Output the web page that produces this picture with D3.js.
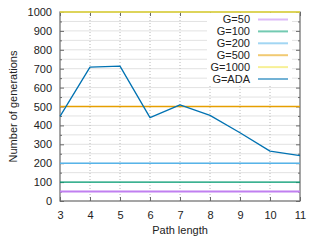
<!DOCTYPE html>
<html>
<head>
<meta charset="utf-8">
<script src="https://cdn.jsdelivr.net/npm/d3@7"></script>
<style>
  html, body { margin: 0; padding: 0; background: #fff; }
  svg { display: block; font-family: "Liberation Sans", Arial, sans-serif; }
</style>
</head>
<body>
<div id="chart"></div>
<script>
// data
const pathLengths = [3, 4, 5, 6, 7, 8, 9, 10, 11];
const adaValues = [448, 708, 714, 441, 509, 453, 361, 264, 240];
const seriesNames = ["G=50", "G=100", "G=200", "G=500", "G=1000", "G=ADA"];
const constantValues = [50, 100, 200, 500, 1000];
const seriesColors = ["#c07ff0", "#009e73", "#56b4e9", "#e69f00", "#f0e442", "#0072b2"];
const yTicks = [0, 100, 200, 300, 400, 500, 600, 700, 800, 900, 1000];
const xTicks = [3, 4, 5, 6, 7, 8, 9, 10, 11];

const width = 320, height = 240;
const margin = { left: 60, right: 20, top: 12, bottom: 39 };

const svg = d3.select("#chart").append("svg")
  .attr("width", width)
  .attr("height", height);

const x = d3.scaleLinear().domain([3, 11]).range([margin.left, width - margin.right]);
const y = d3.scaleLinear().domain([0, 1000]).range([height - margin.bottom, margin.top]);

// horizontal grid every 50
svg.append("g")
  .selectAll("line")
  .data(d3.range(50, 1000, 50))
  .join("line")
  .attr("x1", x(3)).attr("x2", x(11))
  .attr("y1", d => y(d)).attr("y2", d => y(d))
  .attr("stroke", "#e2e2e2")
  .attr("stroke-width", 1);

// vertical dotted grid
svg.append("g")
  .selectAll("line")
  .data(xTicks.slice(1, -1))
  .join("line")
  .attr("x1", d => x(d)).attr("x2", d => x(d))
  .attr("y1", y(0)).attr("y2", y(1000))
  .attr("stroke", "#b8b8b8")
  .attr("stroke-dasharray", "1,2")
  .attr("stroke-width", 1);

// axes (gnuplot style, ticks inward + mirrored)
const axisColor = "#6a6a6a";
const styleAxis = g => {
  g.select(".domain").remove();
  g.selectAll("line").attr("stroke", axisColor);
  g.selectAll("text").attr("fill", "#222").style("font-size", "11px");
};

svg.append("g")
  .attr("transform", `translate(${x(3)},0)`)
  .call(d3.axisLeft(y).tickValues(yTicks).tickSize(-4).tickPadding(8).tickFormat(d3.format("d")))
  .call(styleAxis);
svg.append("g")
  .attr("transform", `translate(${x(3)},0)`)
  .call(d3.axisLeft(y).tickValues(d3.range(50, 1000, 100)).tickSize(-2).tickFormat(""))
  .call(styleAxis);
svg.append("g")
  .attr("transform", `translate(${x(11)},0)`)
  .call(d3.axisRight(y).tickValues(yTicks).tickSize(-4).tickFormat(""))
  .call(styleAxis);
svg.append("g")
  .attr("transform", `translate(${x(11)},0)`)
  .call(d3.axisRight(y).tickValues(d3.range(50, 1000, 100)).tickSize(-2).tickFormat(""))
  .call(styleAxis);
svg.append("g")
  .attr("transform", `translate(0,${y(0)})`)
  .call(d3.axisBottom(x).tickValues(xTicks).tickSize(-4).tickPadding(10).tickFormat(d3.format("d")))
  .call(styleAxis);
svg.append("g")
  .attr("transform", `translate(0,${y(1000)})`)
  .call(d3.axisTop(x).tickValues(xTicks).tickSize(-4).tickFormat(""))
  .call(styleAxis);

// frame
svg.append("rect")
  .attr("x", x(3)).attr("y", y(1000))
  .attr("width", x(11) - x(3)).attr("height", y(0) - y(1000))
  .attr("fill", "none")
  .attr("stroke", axisColor)
  .attr("stroke-width", 1.2);

// constant G lines
svg.append("g")
  .selectAll("line")
  .data(constantValues)
  .join("line")
  .attr("x1", x(3)).attr("x2", x(11))
  .attr("y1", d => y(d)).attr("y2", d => y(d))
  .attr("stroke", (d, i) => seriesColors[i])
  .attr("stroke-width", (d, i) => i === 0 ? 2 : 1.4);

// legend with white background
const legendX = 250, legendY0 = 19.5, legendStep = 11.9;
svg.append("rect")
  .attr("x", 207).attr("y", 13)
  .attr("width", 85).attr("height", 72)
  .attr("fill", "#fff");

// G=ADA line
svg.append("path")
  .datum(pathLengths.map((p, i) => [p, adaValues[i]]))
  .attr("fill", "none")
  .attr("stroke", seriesColors[5])
  .attr("stroke-width", 1.3)
  .attr("stroke-linejoin", "round")
  .attr("d", d3.line().x(d => x(d[0])).y(d => y(d[1])));

const legend = svg.append("g");
seriesNames.forEach((name, i) => {
  const ly = legendY0 + i * legendStep;
  legend.append("text")
    .attr("x", legendX).attr("y", ly)
    .attr("dy", "0.35em")
    .attr("text-anchor", "end")
    .attr("fill", "#222")
    .style("font-size", "11px")
    .text(name);
  legend.append("line")
    .attr("x1", 258).attr("x2", 288)
    .attr("y1", ly).attr("y2", ly)
    .attr("stroke", seriesColors[i])
    .attr("stroke-opacity", 0.55)
    .attr("stroke-width", 2);
});

// axis titles
svg.append("text")
  .attr("transform", `translate(13,${(y(0) + y(1000)) / 2}) rotate(-90)`)
  .attr("text-anchor", "middle")
  .attr("dy", "0.35em")
  .attr("fill", "#222")
  .style("font-size", "11px")
  .text("Number of generations");

svg.append("text")
  .attr("x", (x(3) + x(11)) / 2)
  .attr("y", 230)
  .attr("text-anchor", "middle")
  .attr("dy", "0.35em")
  .attr("fill", "#222")
  .style("font-size", "11px")
  .text("Path length");
</script>
</body>
</html>
